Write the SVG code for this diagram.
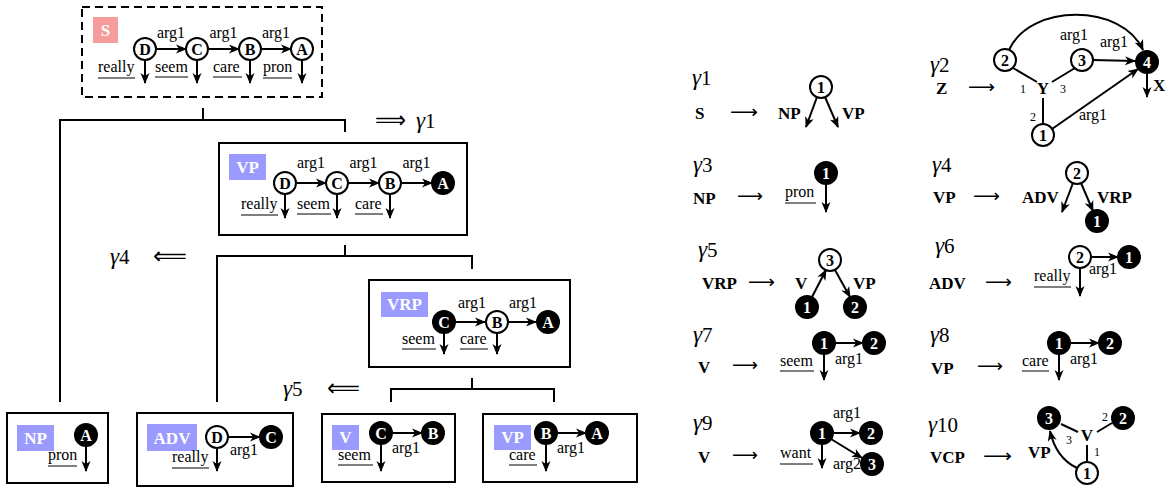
<svg xmlns="http://www.w3.org/2000/svg" width="1172" height="488" viewBox="0 0 1172 488" font-family="Liberation Serif, Times New Roman, DejaVu Serif, serif">
<defs>
<marker id="ah" markerUnits="userSpaceOnUse" markerWidth="12" markerHeight="10" refX="10" refY="5" orient="auto"><path d="M0,0.5 L11,5 L0,9.5 L3,5 Z" fill="#000"/></marker>
</defs>
<style>
.t{font-family:"Liberation Serif","Times New Roman","DejaVu Serif",serif;font-size:16px;fill:#000}
.m{text-anchor:middle}
.e{text-anchor:end}
.b{font-weight:bold;font-size:17px}
.nl{font-family:"Liberation Serif","Times New Roman","DejaVu Serif",serif;font-weight:bold;font-size:16px;text-anchor:middle;fill:#000}
.w{fill:#fff}
.on{fill:#fff;stroke:#000;stroke-width:2}
.fn{fill:#000;stroke:#000;stroke-width:2}
.ar{stroke:#000;stroke-width:2;fill:none;marker-end:url(#ah)}
.ln{stroke:#000;stroke-width:2;fill:none}
.ul{stroke:#555;stroke-width:1.5}
.box{fill:#fff;stroke:#000;stroke-width:2}
.dash{fill:#fff;stroke:#000;stroke-width:2;stroke-dasharray:8 5}
.lbS{fill:#f79c9c}
.lbV{fill:#9a9aff}
.sm{font-size:12px}
.lr{font-family:"DejaVu Sans",sans-serif;font-size:18px}
.dr{font-family:"DejaVu Sans",sans-serif;font-size:24px}
</style>

<!-- derivation tree connectors -->
<g id="tree-connectors">
<path class="ln" d="M203,108 V120 M60,402 V120 H345 V132"/>
<path class="ln" d="M345,245 V256 M217,402 V256 H472 V269"/>
<path class="ln" d="M472,378 V389 M391,402 V389 H554 V402"/>
<text class="dr" x="375" y="128" textLength="31" lengthAdjust="spacingAndGlyphs">⟹</text>
<text class="t" x="416" y="128"><tspan font-style="italic" font-size="23">γ</tspan><tspan font-size="21">1</tspan></text>
<text class="t" x="110" y="264"><tspan font-style="italic" font-size="23">γ</tspan><tspan font-size="21">4</tspan></text>
<text class="dr" x="153" y="264" textLength="34" lengthAdjust="spacingAndGlyphs">⟸</text>
<text class="t" x="283" y="396"><tspan font-style="italic" font-size="23">γ</tspan><tspan font-size="21">5</tspan></text>
<text class="dr" x="327" y="396" textLength="33" lengthAdjust="spacingAndGlyphs">⟸</text>
</g>

<!-- S graph -->
<g id="node-S">
<rect class="dash" x="82" y="7" width="240" height="90"/>
<rect class="lbS" x="93" y="17" width="25" height="26"/>
<text class="t b w m" x="105.5" y="36">S</text>
<line class="ar" x1="156" y1="49" x2="186" y2="49"/>
<line class="ar" x1="208" y1="49" x2="239" y2="49"/>
<line class="ar" x1="261" y1="49" x2="291" y2="49"/>
<text class="t m" x="171" y="38">arg1</text>
<text class="t m" x="223.5" y="38">arg1</text>
<text class="t m" x="276" y="38">arg1</text>
<line class="ar" x1="145" y1="60" x2="145" y2="83"/>
<line class="ar" x1="197" y1="60" x2="197" y2="83"/>
<line class="ar" x1="250" y1="60" x2="250" y2="83"/>
<line class="ar" x1="302" y1="60" x2="302" y2="83"/>
<circle class="on" cx="145" cy="49" r="11"/><text class="nl" x="145" y="55">D</text>
<circle class="on" cx="197" cy="49" r="11"/><text class="nl" x="197" y="55">C</text>
<circle class="on" cx="250" cy="49" r="11"/><text class="nl" x="250" y="55">B</text>
<circle class="on" cx="302" cy="49" r="11"/><text class="nl" x="302" y="55">A</text>
<text class="t" x="98" y="72">really</text><line class="ul" x1="98" y1="78" x2="135" y2="78"/>
<text class="t" x="155" y="72">seem</text><line class="ul" x1="155" y1="77" x2="188" y2="77"/>
<text class="t" x="213" y="72">care</text><line class="ul" x1="213" y1="77" x2="242" y2="77"/>
<text class="t" x="263" y="72">pron</text><line class="ul" x1="263" y1="78" x2="292" y2="78"/>
</g>

<!-- VP graph -->
<g id="node-VP">
<rect class="box" x="219" y="143" width="248" height="92"/>
<rect class="lbV" x="229" y="154" width="37" height="26"/>
<text class="t b w m" x="247.5" y="173">VP</text>
<line class="ar" x1="296" y1="183" x2="326" y2="183"/>
<line class="ar" x1="348" y1="183" x2="379" y2="183"/>
<line class="ar" x1="401" y1="183" x2="432" y2="183"/>
<text class="t m" x="311" y="168">arg1</text>
<text class="t m" x="363.5" y="168">arg1</text>
<text class="t m" x="416.5" y="168">arg1</text>
<line class="ar" x1="285" y1="194" x2="285" y2="218"/>
<line class="ar" x1="337" y1="194" x2="337" y2="218"/>
<line class="ar" x1="390" y1="194" x2="390" y2="218"/>
<circle class="on" cx="285" cy="183" r="11"/><text class="nl" x="285" y="189">D</text>
<circle class="on" cx="337" cy="183" r="11"/><text class="nl" x="337" y="189">C</text>
<circle class="on" cx="390" cy="183" r="11"/><text class="nl" x="390" y="189">B</text>
<circle class="fn" cx="443" cy="183" r="11"/><text class="nl w" x="443" y="189">A</text>
<text class="t" x="241" y="209">really</text><line class="ul" x1="241" y1="215" x2="278" y2="215"/>
<text class="t" x="297" y="209">seem</text><line class="ul" x1="297" y1="214" x2="331" y2="214"/>
<text class="t" x="355" y="209">care</text><line class="ul" x1="355" y1="214" x2="383" y2="214"/>
</g>

<!-- VRP graph -->
<g id="node-VRP">
<rect class="box" x="369" y="280" width="201" height="87"/>
<rect class="lbV" x="381" y="292" width="47" height="25"/>
<text class="t b w m" x="404.5" y="310">VRP</text>
<line class="ar" x1="455" y1="322" x2="485" y2="322"/>
<line class="ar" x1="508" y1="322" x2="536" y2="322"/>
<text class="t m" x="472" y="308">arg1</text>
<text class="t m" x="523" y="308">arg1</text>
<line class="ar" x1="444" y1="333" x2="444" y2="354"/>
<line class="ar" x1="497" y1="333" x2="497" y2="354"/>
<circle class="fn" cx="444" cy="322" r="11"/><text class="nl w" x="444" y="328">C</text>
<circle class="on" cx="497" cy="322" r="11"/><text class="nl" x="497" y="328">B</text>
<circle class="fn" cx="548" cy="322" r="11"/><text class="nl w" x="548" y="328">A</text>
<text class="t" x="402" y="344">seem</text><line class="ul" x1="402" y1="349" x2="436" y2="349"/>
<text class="t" x="460" y="344">care</text><line class="ul" x1="460" y1="349" x2="488" y2="349"/>
</g>

<!-- NP leaf -->
<g id="node-NP">
<rect class="box" x="7" y="413" width="101" height="70"/>
<rect class="lbV" x="17" y="425" width="37" height="26"/>
<text class="t b w m" x="35.5" y="444">NP</text>
<line class="ar" x1="86" y1="446" x2="86" y2="471"/>
<circle class="fn" cx="86" cy="435" r="11"/><text class="nl w" x="86" y="441">A</text>
<text class="t" x="48" y="460">pron</text><line class="ul" x1="48" y1="466" x2="77" y2="466"/>
</g>

<!-- ADV leaf -->
<g id="node-ADV">
<rect class="box" x="137" y="413" width="156" height="73"/>
<rect class="lbV" x="147" y="424" width="50" height="27"/>
<text class="t b w m" x="172" y="444">ADV</text>
<line class="ar" x1="228" y1="437" x2="260" y2="437"/>
<text class="t m" x="244" y="455">arg1</text>
<line class="ar" x1="217" y1="448" x2="217" y2="471"/>
<circle class="on" cx="217" cy="437" r="11"/><text class="nl" x="217" y="443">D</text>
<circle class="fn" cx="271" cy="437" r="11"/><text class="nl w" x="271" y="443">C</text>
<text class="t" x="172" y="462">really</text><line class="ul" x1="172" y1="468" x2="209" y2="468"/>
</g>

<!-- V leaf -->
<g id="node-V">
<rect class="box" x="322" y="414" width="133" height="68"/>
<rect class="lbV" x="332" y="425" width="27" height="25"/>
<text class="t b w m" x="345.5" y="443">V</text>
<line class="ar" x1="392" y1="433" x2="422" y2="433"/>
<text class="t m" x="406" y="453">arg1</text>
<line class="ar" x1="381" y1="444" x2="381" y2="471"/>
<circle class="fn" cx="381" cy="433" r="11"/><text class="nl w" x="381" y="439">C</text>
<circle class="fn" cx="433" cy="433" r="11"/><text class="nl w" x="433" y="439">B</text>
<text class="t" x="338" y="460">seem</text><line class="ul" x1="338" y1="465" x2="373" y2="465"/>
</g>

<!-- VP leaf -->
<g id="node-VP-leaf">
<rect class="box" x="483" y="414" width="154" height="68"/>
<rect class="lbV" x="494" y="425" width="37" height="25"/>
<text class="t b w m" x="512.5" y="443">VP</text>
<line class="ar" x1="557" y1="433" x2="586" y2="433"/>
<text class="t m" x="571" y="453">arg1</text>
<line class="ar" x1="546" y1="444" x2="546" y2="471"/>
<circle class="fn" cx="546" cy="433" r="11"/><text class="nl w" x="546" y="439">B</text>
<circle class="fn" cx="597" cy="433" r="11"/><text class="nl w" x="597" y="439">A</text>
<text class="t" x="509" y="460">care</text><line class="ul" x1="509" y1="465" x2="537" y2="465"/>
</g>

<!-- grammar rules -->
<g id="rule-g1">
<text class="t" x="692" y="85"><tspan font-style="italic" font-size="23">γ</tspan><tspan font-size="21">1</tspan></text>
<text class="t b" x="695" y="119">S</text>
<text class="lr" x="730" y="118" textLength="28" lengthAdjust="spacingAndGlyphs">⟶</text>
<text class="t b" x="778" y="119">NP</text>
<text class="t b" x="842" y="119">VP</text>
<line class="ar" x1="817" y1="97" x2="806" y2="127"/>
<line class="ar" x1="825" y1="97" x2="838" y2="127"/>
<circle class="on" cx="821" cy="87" r="11"/><text class="nl" x="821" y="93">1</text>
</g>

<g id="rule-g2">
<text class="t" x="930" y="72"><tspan font-style="italic" font-size="23">γ</tspan><tspan font-size="21">2</tspan></text>
<text class="t b" x="936" y="94">Z</text>
<text class="lr" x="968" y="93" textLength="27" lengthAdjust="spacingAndGlyphs">⟶</text>
<path class="ln" d="M1013,68 L1037,82 M1075,68 L1052,82 M1043,98 V124"/>
<text class="t b m" x="1043" y="94">Y</text>
<text class="t sm m" x="1023" y="93">1</text>
<text class="t sm m" x="1063" y="93">3</text>
<text class="t sm m" x="1033" y="121">2</text>
<path class="ar" d="M1009,50 C1030,3 1122,3 1143,50"/>
<text class="t m" x="1074" y="40">arg1</text>
<text class="t m" x="1114" y="47">arg1</text>
<line class="ar" x1="1093" y1="60" x2="1135" y2="61"/>
<line class="ar" x1="1052" y1="129" x2="1138" y2="69"/>
<text class="t m" x="1093" y="120">arg1</text>
<line class="ar" x1="1147" y1="73" x2="1147" y2="97"/>
<text class="t b" x="1153" y="91">X</text>
<circle class="on" cx="1005" cy="60" r="11"/><text class="nl" x="1005" y="66">2</text>
<circle class="on" cx="1082" cy="60" r="11"/><text class="nl" x="1082" y="66">3</text>
<circle class="fn" cx="1147" cy="62" r="11"/><text class="nl w" x="1147" y="68">4</text>
<circle class="on" cx="1043" cy="135" r="11"/><text class="nl" x="1043" y="141">1</text>
</g>

<g id="rule-g3">
<text class="t" x="693" y="172"><tspan font-style="italic" font-size="23">γ</tspan><tspan font-size="21">3</tspan></text>
<text class="t b" x="693" y="204">NP</text>
<text class="lr" x="737" y="202" textLength="26" lengthAdjust="spacingAndGlyphs">⟶</text>
<text class="t" x="785" y="197">pron</text><line class="ul" x1="785" y1="203" x2="816" y2="203"/>
<line class="ar" x1="826" y1="184" x2="826" y2="212"/>
<circle class="fn" cx="826" cy="173" r="11"/><text class="nl w" x="826" y="179">1</text>
</g>

<g id="rule-g4">
<text class="t" x="932" y="172"><tspan font-style="italic" font-size="23">γ</tspan><tspan font-size="21">4</tspan></text>
<text class="t b" x="933" y="203">VP</text>
<text class="lr" x="973" y="202" textLength="27" lengthAdjust="spacingAndGlyphs">⟶</text>
<text class="t b" x="1022" y="203">ADV</text>
<text class="t b" x="1097" y="203">VRP</text>
<line class="ar" x1="1073" y1="183" x2="1062" y2="212"/>
<line class="ar" x1="1081" y1="183" x2="1093" y2="211"/>
<circle class="on" cx="1077" cy="173" r="11"/><text class="nl" x="1077" y="179">2</text>
<circle class="fn" cx="1097" cy="221" r="11"/><text class="nl w" x="1097" y="227">1</text>
</g>

<g id="rule-g5">
<text class="t" x="698" y="257"><tspan font-style="italic" font-size="23">γ</tspan><tspan font-size="21">5</tspan></text>
<text class="t b" x="702" y="289">VRP</text>
<text class="lr" x="748" y="288" textLength="27" lengthAdjust="spacingAndGlyphs">⟶</text>
<text class="t b" x="795" y="289">V</text>
<text class="t b" x="853" y="289">VP</text>
<line class="ar" x1="812" y1="297" x2="826" y2="270"/>
<line class="ar" x1="835" y1="270" x2="850" y2="297"/>
<circle class="on" cx="830" cy="260" r="11"/><text class="nl" x="830" y="266">3</text>
<circle class="fn" cx="807" cy="307" r="11"/><text class="nl w" x="807" y="313">1</text>
<circle class="fn" cx="855" cy="307" r="11"/><text class="nl w" x="855" y="313">2</text>
</g>

<g id="rule-g6">
<text class="t" x="935" y="253"><tspan font-style="italic" font-size="23">γ</tspan><tspan font-size="21">6</tspan></text>
<text class="t b" x="929" y="289">ADV</text>
<text class="lr" x="985" y="288" textLength="27" lengthAdjust="spacingAndGlyphs">⟶</text>
<text class="t" x="1034" y="281">really</text><line class="ul" x1="1034" y1="287" x2="1071" y2="287"/>
<line class="ar" x1="1091" y1="257" x2="1118" y2="257"/>
<text class="t m" x="1103" y="274">arg1</text>
<line class="ar" x1="1080" y1="268" x2="1080" y2="296"/>
<circle class="on" cx="1080" cy="257" r="11"/><text class="nl" x="1080" y="263">2</text>
<circle class="fn" cx="1129" cy="257" r="11"/><text class="nl w" x="1129" y="263">1</text>
</g>

<g id="rule-g7">
<text class="t" x="693" y="342"><tspan font-style="italic" font-size="23">γ</tspan><tspan font-size="21">7</tspan></text>
<text class="t b" x="698" y="373">V</text>
<text class="lr" x="732" y="371" textLength="26" lengthAdjust="spacingAndGlyphs">⟶</text>
<text class="t" x="780" y="366">seem</text><line class="ul" x1="780" y1="371" x2="814" y2="371"/>
<line class="ar" x1="835" y1="343" x2="863" y2="343"/>
<text class="t m" x="849" y="364">arg1</text>
<line class="ar" x1="824" y1="354" x2="824" y2="380"/>
<circle class="fn" cx="824" cy="343" r="11"/><text class="nl w" x="824" y="349">1</text>
<circle class="fn" cx="874" cy="343" r="11"/><text class="nl w" x="874" y="349">2</text>
</g>

<g id="rule-g8">
<text class="t" x="930" y="342"><tspan font-style="italic" font-size="23">γ</tspan><tspan font-size="21">8</tspan></text>
<text class="t b" x="931" y="374">VP</text>
<text class="lr" x="977" y="372" textLength="26" lengthAdjust="spacingAndGlyphs">⟶</text>
<text class="t" x="1022" y="366">care</text><line class="ul" x1="1022" y1="371" x2="1049" y2="371"/>
<line class="ar" x1="1070" y1="343" x2="1099" y2="343"/>
<text class="t m" x="1084" y="364">arg1</text>
<line class="ar" x1="1059" y1="354" x2="1059" y2="380"/>
<circle class="fn" cx="1059" cy="343" r="11"/><text class="nl w" x="1059" y="349">1</text>
<circle class="fn" cx="1110" cy="343" r="11"/><text class="nl w" x="1110" y="349">2</text>
</g>

<g id="rule-g9">
<text class="t" x="693" y="430"><tspan font-style="italic" font-size="23">γ</tspan><tspan font-size="21">9</tspan></text>
<text class="t b" x="698" y="463">V</text>
<text class="lr" x="732" y="461" textLength="26" lengthAdjust="spacingAndGlyphs">⟶</text>
<text class="t" x="780" y="458">want</text><line class="ul" x1="780" y1="464" x2="813" y2="464"/>
<line class="ar" x1="833" y1="433" x2="860" y2="433"/>
<text class="t m" x="847" y="418">arg1</text>
<line class="ar" x1="831" y1="439" x2="862" y2="458"/>
<text class="t m" x="847" y="469">arg2</text>
<line class="ar" x1="822" y1="444" x2="822" y2="468"/>
<circle class="fn" cx="822" cy="433" r="11"/><text class="nl w" x="822" y="439">1</text>
<circle class="fn" cx="871" cy="433" r="11"/><text class="nl w" x="871" y="439">2</text>
<circle class="fn" cx="872" cy="464" r="11"/><text class="nl w" x="872" y="470">3</text>
</g>

<g id="rule-g10">
<text class="t" x="928" y="432"><tspan font-style="italic" font-size="23">γ</tspan><tspan font-size="21">10</tspan></text>
<text class="t b" x="930" y="463">VCP</text>
<text class="lr" x="983" y="462" textLength="29" lengthAdjust="spacingAndGlyphs">⟶</text>
<path class="ln" d="M1061,424 L1078,432 M1097,432 L1112,423 M1087,445 V463"/>
<text class="t b m" x="1087" y="441">V</text>
<text class="t sm m" x="1105" y="421">2</text>
<text class="t sm m" x="1069" y="444">3</text>
<text class="t sm m" x="1097" y="456">1</text>
<text class="t b" x="1028" y="458">VP</text>
<path class="ar" d="M1077,468 Q1056,458 1050,431"/>
<circle class="fn" cx="1049" cy="418" r="11"/><text class="nl w" x="1049" y="424">3</text>
<circle class="fn" cx="1123" cy="418" r="11"/><text class="nl w" x="1123" y="424">2</text>
<circle class="on" cx="1087" cy="473" r="11"/><text class="nl" x="1087" y="479">1</text>
</g>
</svg>
